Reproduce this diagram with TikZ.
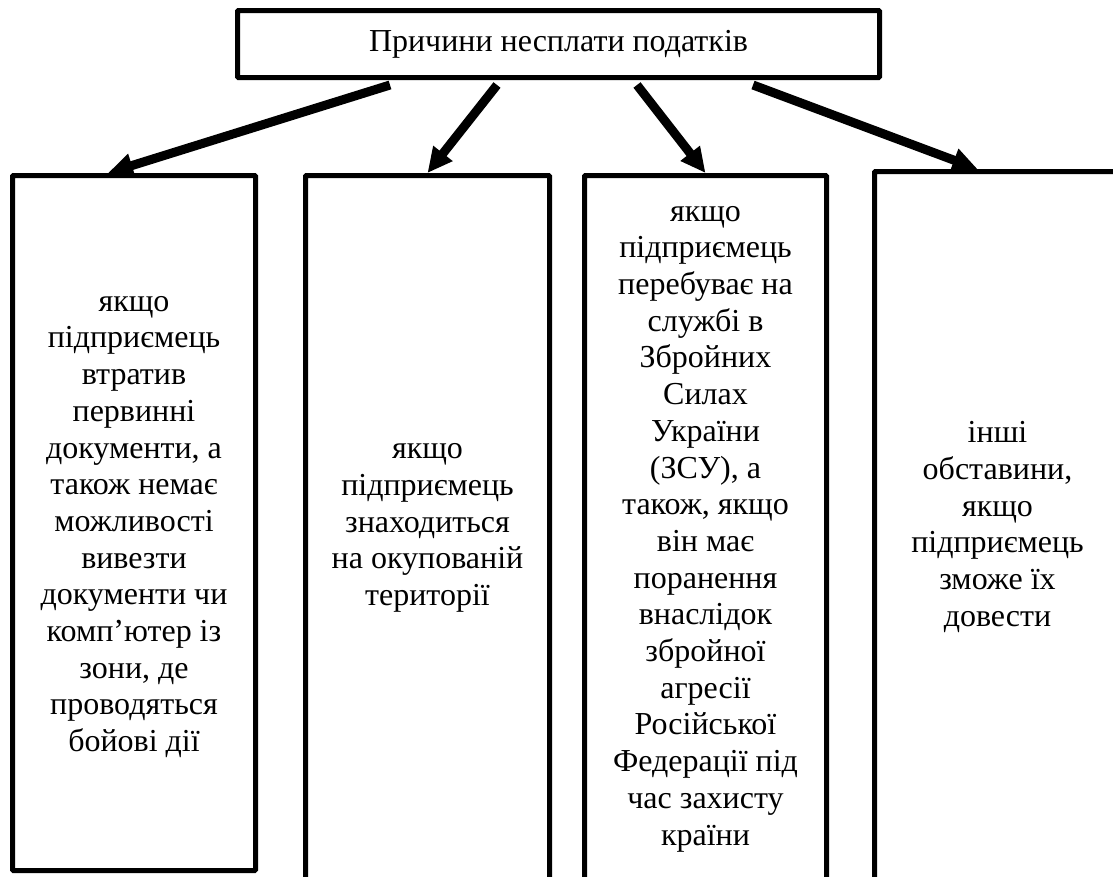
\documentclass[tikz,border=0pt]{standalone}
\usepackage{fontspec}
\setmainfont{Liberation Serif}
\usetikzlibrary{arrows.meta}

\tikzset{
    reasonbox/.style={draw, line width=5, rounded corners=1pt, inner sep=0pt},
    reasontext/.style={align=center, inner sep=0pt, font=\fontsize{32}{36.7}\selectfont},
    bigarrow/.style={-{Triangle[length=25pt, width=23pt]}, line width=9}
}

\begin{document}
\begin{tikzpicture}[x=1pt, y=-1pt]

\useasboundingbox (0,0) rectangle (1113,876);
\clip (0,0) rectangle (1113,876);

% top box
\node[reasonbox, reasontext, minimum width=642, minimum height=67] (top) at (558.5,44) {Причини несплати податків};

% four reason boxes
\node[reasonbox, minimum width=243, minimum height=695] (box1) at (134,523) {};
\node[reasonbox, minimum width=244, minimum height=760] (box2) at (427.5,555.5) {};
\node[reasonbox, minimum width=242, minimum height=760] (box3) at (705.5,555.5) {};
\node[reasonbox, minimum width=246, minimum height=760] (box4) at (997.5,551.5) {};

\node[reasontext] (reason1) at (134,527) {якщо\\підприємець\\втратив\\первинні\\документи, а\\також немає\\можливості\\вивезти\\документи чи\\комп’ютер із\\зони, де\\проводяться\\бойові дії};
\node[reasontext] (reason2) at (427.5,528) {якщо\\підприємець\\знаходиться\\на окупованій\\території};
\node[reasontext] (reason3) at (705.5,529) {якщо\\підприємець\\перебуває на\\службі в\\Збройних\\Силах\\України\\(ЗСУ), а\\також, якщо\\він має\\поранення\\внаслідок\\збройної\\агресії\\Російської\\Федерації під\\час захисту\\країни};
\node[reasontext] (reason4) at (997.5,527) {інші\\обставини,\\якщо\\підприємець\\зможе їх\\довести};

% arrows
\draw[bigarrow] ([xshift=-168.5, yshift=-5]top.south) -- ([xshift=-26]box1.north);
\draw[bigarrow] ([xshift=-61.5, yshift=-5]top.south) -- (box2.north);
\draw[bigarrow] ([xshift=78.5, yshift=-5]top.south) -- (box3.north);
\draw[bigarrow] ([xshift=194.5, yshift=-5]top.south) -- ([xshift=-20]box4.north);

\end{tikzpicture}
\end{document}
